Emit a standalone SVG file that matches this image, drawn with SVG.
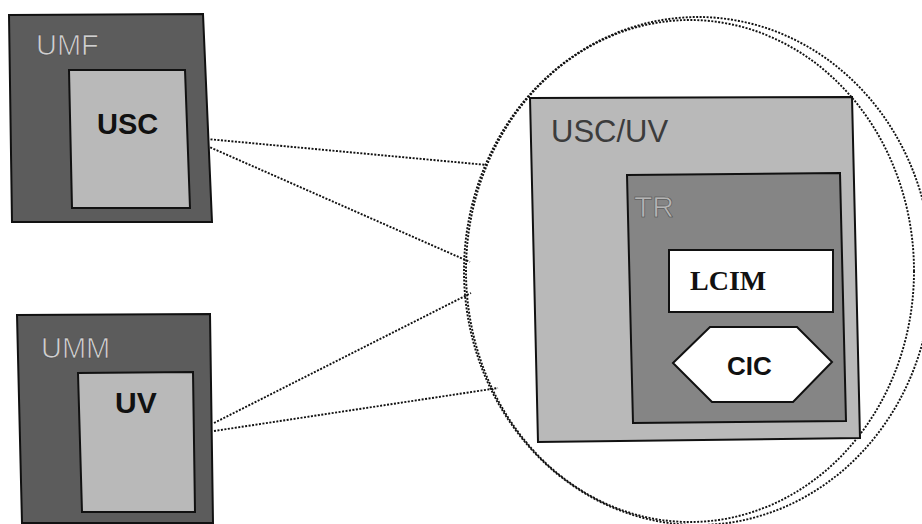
<svg xmlns="http://www.w3.org/2000/svg" width="922" height="524" viewBox="0 0 922 524">
<style>
.box{stroke:#111;stroke-width:2;stroke-linejoin:miter}
.dark{fill:#5c5c5c}
.light{fill:#b9b9b9}
.mid{fill:#858585}
.white{fill:#fff}
.dot{fill:none;stroke:#111;stroke-width:1.9;stroke-dasharray:2 1.5}
.sans{font-family:"Liberation Sans",Arial,sans-serif}
.serif{font-family:"Liberation Serif","Times New Roman",serif}
.lbl{font-size:29px;fill:#cfcfcf;stroke:#444;stroke-width:0.6}
.bold{font-weight:bold;fill:#111}
</style>
<rect width="922" height="524" fill="#fff"/>
<g id="connectors">
<line class="dot" x1="207" y1="139" x2="487" y2="165"/>
<line class="dot" x1="207" y1="146" x2="470" y2="262"/>
<line class="dot" x1="214" y1="423" x2="471" y2="293"/>
<line class="dot" x1="214" y1="431" x2="498" y2="388"/>
</g>
<g id="zoom-circle">
<ellipse class="dot" cx="690" cy="271" rx="224" ry="251"/>
<ellipse class="dot" cx="698" cy="271" rx="234" ry="254"/>
</g>
<g id="umf">
<polygon class="box dark" points="9,15 203,14 212,222 12,222"/>
<text class="sans lbl" x="36" y="55">UMF</text>
</g>
<g id="usc">
<polygon class="box light" points="69,70 185,70 190,208 72,208"/>
<text class="sans bold" font-size="29" x="97" y="134">USC</text>
</g>
<g id="umm">
<polygon class="box dark" points="17,315 210,314 213,523 22,523"/>
<text class="sans lbl" x="41" y="358" font-size="30">UMM</text>
</g>
<g id="uv">
<polygon class="box light" points="78,373 193,372 195,512 82,512"/>
<text class="sans bold" font-size="30" x="115" y="413">UV</text>
</g>
<g id="usc-uv">
<polygon class="box light" points="530,98 852,97 860,438 538,442"/>
<text class="sans" font-size="31" x="551" y="142" fill="#3c3c3c">USC/UV</text>
</g>
<g id="tr">
<polygon class="box mid" points="627,175 840,173 846,421 633,423"/>
<text class="sans" font-size="30" x="634" y="217" fill="#b4b4b4" stroke="#444" stroke-width="0.5">TR</text>
</g>
<g id="lcim">
<rect class="box white" x="669" y="250" width="164" height="62"/>
<text class="serif bold" font-size="28" x="690" y="290">LCIM</text>
</g>
<g id="cic">
<polygon class="box white" points="673,363 710,327 797,327 832,362 793,402 712,402"/>
<text class="sans bold" font-size="26" x="727" y="375">CIC</text>
</g>
</svg>
